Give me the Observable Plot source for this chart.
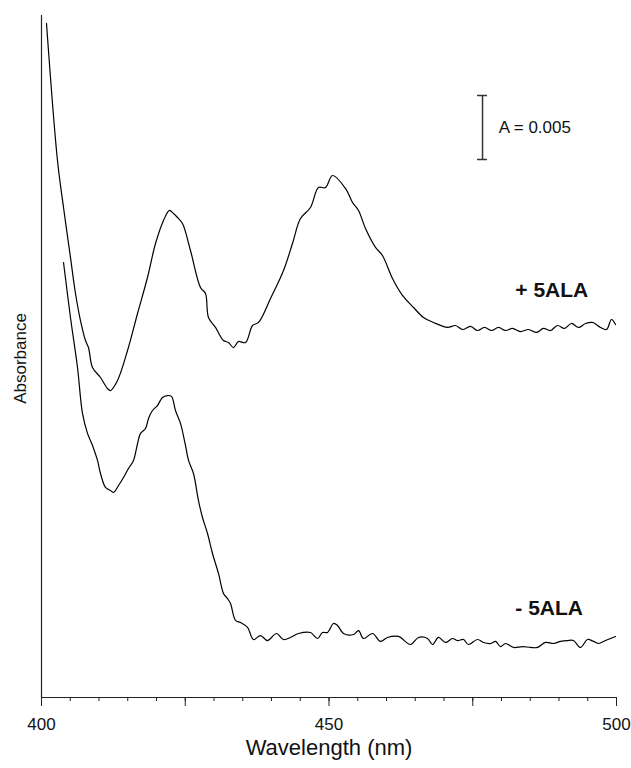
<!DOCTYPE html>
<html>
<head>
<meta charset="utf-8">
<script src="https://cdn.jsdelivr.net/npm/d3@7"></script>
<script src="https://cdn.jsdelivr.net/npm/@observablehq/plot@0.6"></script>
<style>
  html, body { margin: 0; padding: 0; background: #fff; }
  #chart { width: 631px; height: 768px; }
</style>
</head>
<body>
<div id="chart"></div>
<script>
// Wavelength (nm) and absorbance (milli-absorbance units, relative offset) for "+ 5ALA"
const plusWavelength = [400.87, 402.78, 403.83, 405.04, 405.91, 406.78, 407.65, 408.17, 408.87, 410.26, 411.48, 412.0, 413.22, 414.96, 416.70, 418.43, 419.83, 421.22, 422.26, 422.96, 423.65, 424.52, 425.91, 427.65, 428.52, 429.04, 430.26, 431.65, 432.52, 433.39, 434.26, 435.48, 436.70, 437.74, 439.83, 442.09, 443.65, 445.04, 446.78, 448.17, 449.39, 450.61, 452.87, 454.09, 455.13, 456.35, 458.09, 459.30, 461.04, 462.78, 464.70, 466.43, 468.17, 470.61, 472.0, 473.22, 474.61, 475.83, 477.04, 478.26, 479.48, 480.70, 481.91, 483.30, 484.70, 486.09, 487.30, 488.52, 489.74, 490.96, 492.17, 493.39, 494.61, 495.83, 497.22, 498.26, 499.13, 499.83];
const plusAbsorbance = [52.66, 41.95, 38.28, 34.38, 31.56, 29.45, 27.89, 27.34, 25.78, 25.0, 24.14, 23.98, 24.77, 27.11, 30.0, 32.81, 35.47, 37.27, 38.05, 37.81, 37.5, 37.03, 34.92, 32.03, 31.56, 29.69, 28.91, 27.89, 27.73, 27.34, 27.81, 27.73, 29.06, 29.30, 31.17, 33.36, 35.47, 37.42, 38.28, 39.84, 39.84, 40.78, 39.77, 38.67, 38.05, 36.64, 35.16, 34.53, 32.73, 31.41, 30.47, 29.69, 29.30, 28.91, 29.06, 28.75, 29.0, 28.67, 28.91, 28.67, 28.91, 28.67, 28.83, 28.59, 28.75, 28.52, 28.83, 28.67, 29.06, 28.83, 29.22, 28.91, 29.22, 29.30, 28.91, 28.75, 29.53, 29.14];

// "- 5ALA"
const minusWavelength = [403.83, 405.04, 406.26, 407.13, 408.0, 408.87, 409.74, 410.26, 411.13, 412.0, 412.52, 413.39, 414.26, 415.13, 416.0, 416.70, 417.22, 418.09, 418.61, 419.30, 420.17, 421.04, 421.91, 422.61, 423.30, 424.17, 425.04, 425.57, 426.43, 427.30, 428.0, 428.87, 429.74, 430.78, 431.65, 432.35, 432.87, 433.74, 434.61, 435.83, 436.87, 438.09, 439.30, 440.87, 442.09, 443.30, 444.70, 446.78, 448.0, 448.87, 449.74, 450.78, 451.48, 452.52, 454.26, 455.13, 456.0, 457.57, 458.96, 460.17, 462.09, 464.17, 465.57, 467.13, 468.0, 469.04, 470.26, 471.48, 472.35, 473.39, 474.26, 475.83, 476.87, 478.09, 478.96, 479.83, 480.70, 482.09, 483.65, 485.04, 486.26, 487.65, 489.04, 490.26, 491.48, 492.52, 493.74, 494.96, 496.0, 496.87, 498.09, 499.83];
const minusAbsorbance = [33.98, 29.69, 25.78, 22.19, 20.63, 19.69, 18.52, 17.5, 16.41, 16.17, 16.02, 16.56, 17.19, 17.89, 18.52, 19.84, 20.63, 21.02, 21.80, 22.42, 22.81, 23.44, 23.59, 23.52, 22.42, 21.41, 19.69, 18.52, 17.5, 15.39, 14.06, 12.81, 11.25, 9.69, 8.13, 7.73, 7.34, 6.02, 5.86, 5.47, 4.53, 4.84, 4.45, 5.0, 4.53, 4.69, 5.0, 5.08, 4.61, 5.08, 5.08, 5.78, 5.63, 5.0, 4.92, 5.23, 4.61, 5.0, 4.38, 4.69, 4.77, 4.14, 4.69, 4.61, 4.14, 4.69, 4.30, 4.61, 4.45, 4.53, 4.14, 4.53, 4.30, 4.22, 4.38, 3.98, 4.22, 3.91, 3.98, 3.91, 3.91, 4.30, 4.22, 4.38, 4.45, 4.45, 3.91, 4.53, 4.38, 4.22, 4.45, 4.77];

const xTickLabels = [400, 450, 500];
const seriesLabels = ["+ 5ALA", "- 5ALA"];
const scaleBarValue = 5;          // mA, i.e. A = 0.005
const scaleBarText = "A = 0.005";

// annotation anchors (data coordinates)
const labelAnchors = [{x: 482.4, y: 31.8}, {x: 482.4, y: 7.0}];
const scaleBar = {x: 476.7, y0: 42.03, cap: 0.87, textX: 479.5};

const plus = plusWavelength.map((w, i) => ({w, a: plusAbsorbance[i]}));
const minus = minusWavelength.map((w, i) => ({w, a: minusAbsorbance[i]}));
const labels = seriesLabels.map((t, i) => ({t, ...labelAnchors[i]}));

const font = "'Liberation Sans', Arial, Helvetica, sans-serif";

const chart = Plot.plot({
  width: 631,
  height: 768,
  marginLeft: 41,
  marginRight: 15,
  marginTop: 15,
  marginBottom: 71,
  style: {fontFamily: font, color: "#111", background: "#fff"},
  x: {domain: [400, 500], axis: null},
  y: {domain: [0, 53.28], axis: null},
  marks: [
    Plot.ruleX([400], {stroke: "#222", strokeWidth: 1.2}),
    Plot.ruleY([0], {stroke: "#222", strokeWidth: 1.2}),
    Plot.axisX({ticks: d3.range(400, 501, 5), tickSize: 4, tickFormat: () => "", stroke: "#222"}),
    Plot.axisX({ticks: d3.range(400, 501, 25), tickSize: 9, tickPadding: 11, fontSize: 17,
      tickFormat: d => xTickLabels.includes(d) ? String(d) : "", stroke: "#222", fill: "#111"}),
    Plot.text(["Wavelength (nm)"], {frameAnchor: "bottom", textAnchor: "middle", dy: 57, fontSize: 22, fill: "#111"}),
    Plot.text(["Absorbance"], {frameAnchor: "left", textAnchor: "middle", dx: -21, dy: 2, rotate: -90, fontSize: 17, fill: "#111"}),
    Plot.line(plus, {x: "w", y: "a", stroke: "#000", strokeWidth: 1.2, curve: "catmull-rom"}),
    Plot.line(minus, {x: "w", y: "a", stroke: "#000", strokeWidth: 1.2, curve: "catmull-rom"}),
    Plot.text(labels, {x: "x", y: "y", text: "t", textAnchor: "start", fontSize: 21, fontWeight: "bold", fill: "#111"}),
    Plot.ruleX([scaleBar.x], {y1: scaleBar.y0, y2: scaleBar.y0 + scaleBarValue, stroke: "#333", strokeWidth: 1.5}),
    Plot.ruleY([scaleBar.y0, scaleBar.y0 + scaleBarValue], {x1: scaleBar.x - scaleBar.cap, x2: scaleBar.x + scaleBar.cap, stroke: "#333", strokeWidth: 1.5}),
    Plot.text([scaleBarText], {x: scaleBar.textX, y: scaleBar.y0 + scaleBarValue / 2, textAnchor: "start", fontSize: 17, fill: "#111"})
  ]
});
document.getElementById("chart").appendChild(chart);
</script>
</body>
</html>
